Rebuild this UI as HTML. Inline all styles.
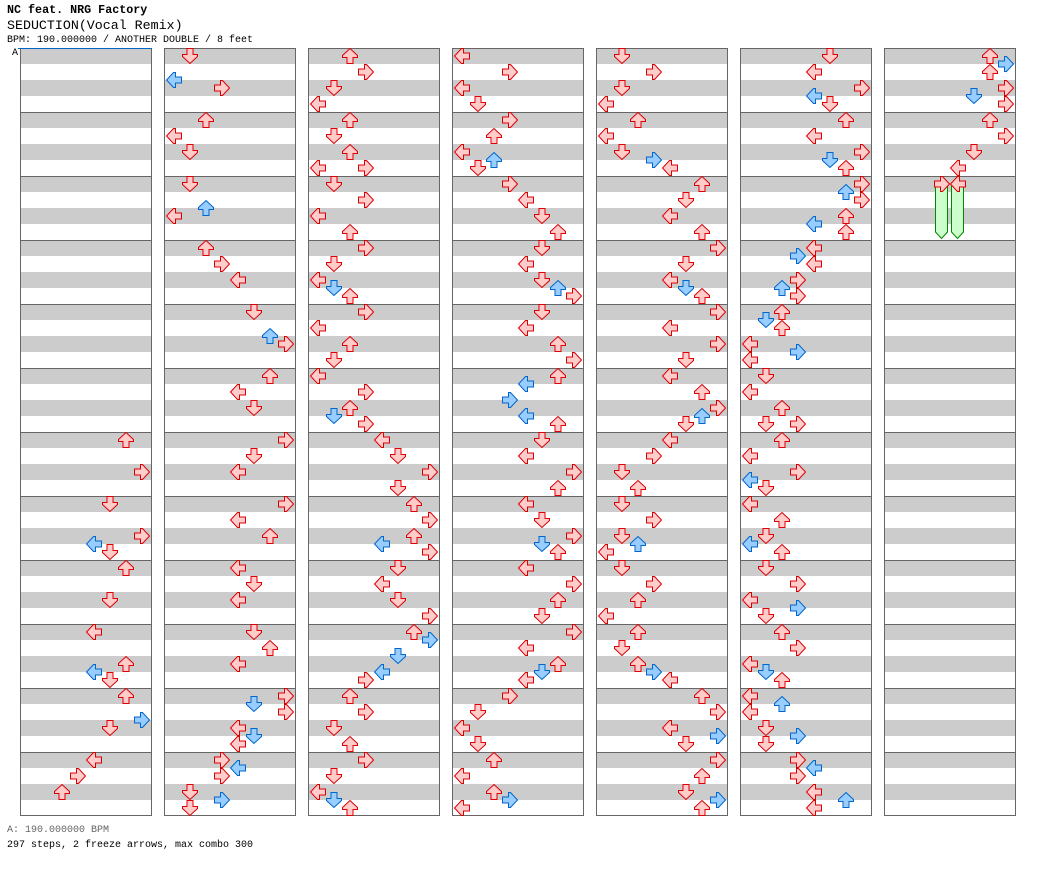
<!DOCTYPE html>
<html><head><meta charset="utf-8"><style>
body{margin:0;background:#fff;width:1040px;height:876px;overflow:hidden;position:relative;font-family:"Liberation Mono",monospace;}
.t{position:absolute;left:7px;white-space:pre;color:#000;}
svg{position:absolute;left:0;top:0;}
</style></head><body>
<div class="t" style="top:3px;font-size:11.7px;font-weight:bold;">NC feat. NRG Factory</div>
<div class="t" style="top:18px;font-size:13.3px;">SEDUCTION(Vocal Remix)</div>
<div class="t" style="top:35px;font-size:10px;">BPM: 190.000000 / ANOTHER DOUBLE / 8 feet</div>
<div class="t" style="top:48px;left:12px;font-size:10px;">A</div>
<div class="t" style="top:825px;font-size:10px;color:#666;">A: 190.000000 BPM</div>
<div class="t" style="top:840px;font-size:10px;">297 steps, 2 freeze arrows, max combo 300</div>
<svg id="s" width="1040" height="876" xmlns="http://www.w3.org/2000/svg"></svg>
<script>
var X=[20,164,308,452,596,740,884];
var D={
0:[[6,0,6],[6,8,7],[7,0,5],[7,8,7],[7,10,4,1],[7,12,5],[8,0,6],[8,8,5],[9,0,4],[9,8,6],[9,10,4,1],[9,12,5],[10,0,6],[10,6,7,1],[10,8,5],[11,0,4],[11,4,3],[11,8,2]],
1:[[0,0,1],[0,6,0,1],[0,8,3],[1,0,2],[1,4,0],[1,8,1],[2,0,1],[2,6,2,1],[2,8,0],[3,0,2],[3,4,3],[3,8,4],[4,0,5],[4,6,6,1],[4,8,7],[5,0,6],[5,4,4],[5,8,5],[6,0,7],[6,4,5],[6,8,4],[7,0,7],[7,4,4],[7,8,6],[8,0,4],[8,4,5],[8,8,4],[9,0,5],[9,4,6],[9,8,4],[10,0,7],[10,2,5,1],[10,4,7],[10,8,4],[10,10,5,1],[10,12,4],[11,0,3],[11,2,4,1],[11,4,3],[11,8,1],[11,10,3,1],[11,12,1]],
2:[[0,0,2],[0,4,3],[0,8,1],[0,12,0],[1,0,2],[1,4,1],[1,8,2],[1,12,0],[1,12,3],[2,0,1],[2,4,3],[2,8,0],[2,12,2],[3,0,3],[3,4,1],[3,8,0],[3,10,1,1],[3,12,2],[4,0,3],[4,4,0],[4,8,2],[4,12,1],[5,0,0],[5,4,3],[5,8,2],[5,10,1,1],[5,12,3],[6,0,4],[6,4,5],[6,8,7],[6,12,5],[7,0,6],[7,4,7],[7,8,6],[7,10,4,1],[7,12,7],[8,0,5],[8,4,4],[8,8,5],[8,12,7],[9,0,6],[9,2,7,1],[9,6,5,1],[9,10,4,1],[9,12,3],[10,0,2],[10,4,3],[10,8,1],[10,12,2],[11,0,3],[11,4,1],[11,8,0],[11,10,1,1],[11,12,2]],
3:[[0,0,0],[0,4,3],[0,8,0],[0,12,1],[1,0,3],[1,4,2],[1,8,0],[1,10,2,1],[1,12,1],[2,0,3],[2,4,4],[2,8,5],[2,12,6],[3,0,5],[3,4,4],[3,8,5],[3,10,6,1],[3,12,7],[4,0,5],[4,4,4],[4,8,6],[4,12,7],[5,0,6],[5,2,4,1],[5,6,3,1],[5,10,4,1],[5,12,6],[6,0,5],[6,4,4],[6,8,7],[6,12,6],[7,0,4],[7,4,5],[7,8,7],[7,10,5,1],[7,12,6],[8,0,4],[8,4,7],[8,8,6],[8,12,5],[9,0,7],[9,4,4],[9,8,6],[9,10,5,1],[9,12,4],[10,0,3],[10,4,1],[10,8,0],[10,12,1],[11,0,2],[11,4,0],[11,8,2],[11,10,3,1],[11,12,0]],
4:[[0,0,1],[0,4,3],[0,8,1],[0,12,0],[1,0,2],[1,4,0],[1,8,1],[1,10,3,1],[1,12,4],[2,0,6],[2,4,5],[2,8,4],[2,12,6],[3,0,7],[3,4,5],[3,8,4],[3,10,5,1],[3,12,6],[4,0,7],[4,4,4],[4,8,7],[4,12,5],[5,0,4],[5,4,6],[5,8,7],[5,10,6,1],[5,12,5],[6,0,4],[6,4,3],[6,8,1],[6,12,2],[7,0,1],[7,4,3],[7,8,1],[7,10,2,1],[7,12,0],[8,0,1],[8,4,3],[8,8,2],[8,12,0],[9,0,2],[9,4,1],[9,8,2],[9,10,3,1],[9,12,4],[10,0,6],[10,4,7],[10,8,4],[10,10,7,1],[10,12,5],[11,0,7],[11,4,6],[11,8,5],[11,10,7,1],[11,12,6]],
5:[[0,0,5],[0,4,4],[0,8,7],[0,10,4,1],[0,12,5],[1,0,6],[1,4,4],[1,8,7],[1,10,5,1],[1,12,6],[2,0,7],[2,2,6,1],[2,4,7],[2,8,6],[2,10,4,1],[2,12,6],[3,0,4],[3,2,3,1],[3,4,4],[3,8,3],[3,10,2,1],[3,12,3],[4,0,2],[4,2,1,1],[4,4,2],[4,8,0],[4,10,3,1],[4,12,0],[5,0,1],[5,4,0],[5,8,2],[5,12,1],[5,12,3],[6,0,2],[6,4,0],[6,8,3],[6,10,0,1],[6,12,1],[7,0,0],[7,4,2],[7,8,1],[7,10,0,1],[7,12,2],[8,0,1],[8,4,3],[8,8,0],[8,10,3,1],[8,12,1],[9,0,2],[9,4,3],[9,8,0],[9,10,1,1],[9,12,2],[10,0,0],[10,2,2,1],[10,4,0],[10,8,1],[10,10,3,1],[10,12,1],[11,0,3],[11,2,4,1],[11,4,3],[11,8,4],[11,10,6,1],[11,12,4]],
6:[[0,0,6],[0,2,7,1],[0,4,6],[0,8,7],[0,10,5,1],[0,12,7],[1,0,6],[1,4,7],[1,8,5],[1,12,4]]
};
var s=document.getElementById('s'),h='';
for(var c=0;c<7;c++){var x=X[c];
 for(var m=0;m<12;m++){var y=48+64*m;
  h+='<rect x="'+x+'" y="'+y+'" width="132" height="16" fill="#cccccc"/><rect x="'+x+'" y="'+(y+32)+'" width="132" height="16" fill="#cccccc"/>';
  h+='<line x1="'+x+'" y1="'+(y+0.5)+'" x2="'+(x+132)+'" y2="'+(y+0.5)+'" stroke="#666"/>';}
 h+='<rect x="'+(x+0.5)+'" y="48.5" width="131" height="767" fill="none" stroke="#666"/>';}
h+='<line x1="18" y1="48.5" x2="152" y2="48.5" stroke="#0066cc"/>';
[3,4].forEach(function(l){var cx=884+2+16*l;h+='<path d="M'+(cx+1.5)+' 186 V232 L'+(cx+7.5)+' 238.5 L'+(cx+13.5)+' 232 V186 Z" fill="#ccffcc" stroke="#008800"/>';});
D[6].push([2,0,3],[2,0,4]);
var rot=[270,180,0,90];
var P='M8 0.5 L15.5 7.5 L15.5 9.5 L11 9.5 L11 15.5 L5 15.5 L5 9.5 L0.5 9.5 L0.5 7.5 Z';
for(var c in D){D[c].forEach(function(a){var x=X[c]+2+16*a[2],y=48+64*a[0]+4*a[1];
 var f=a[3]?'#99ccff':'#ffcccc',st=a[3]?'#0066cc':'#dd0000';
 h+='<g transform="translate('+x+','+y+') rotate('+rot[a[2]%4]+',8,8)"><path d="'+P+'" fill="'+f+'" stroke="'+st+'" stroke-width="1"/></g>';});}
s.innerHTML=h;
</script>
</body></html>
